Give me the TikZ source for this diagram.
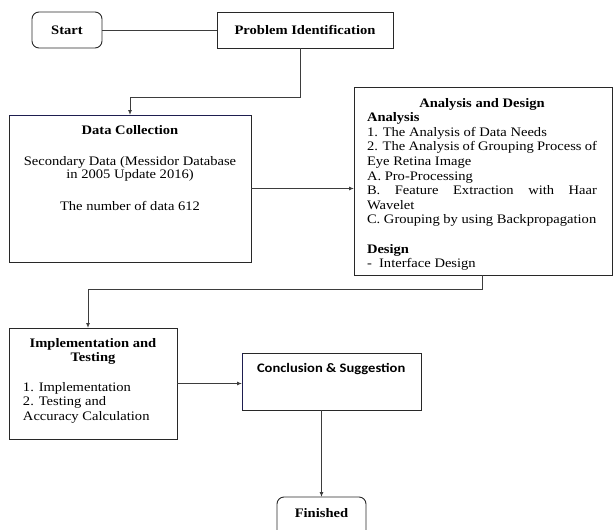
\documentclass[tikz,border=0pt]{standalone}
\usepackage{fontspec}
\setmainfont{Liberation Serif}[FakeStretch=1.12]
\newfontfamily\calibrifont{Carlito}[FakeStretch=1.12]
\usetikzlibrary{arrows.meta}
\definecolor{edge}{RGB}{40,40,40}
\definecolor{navyedge}{RGB}{30,30,80}
\begin{document}
\begin{tikzpicture}[x=1pt,y=-1pt,
  box/.style={draw=edge, line width=0.9pt, inner sep=0pt, outer sep=0pt, anchor=north west},
  rbox/.style={box, rounded corners=7pt},
  conn/.style={draw=edge!90, line width=0.9pt},
  arr/.style={conn, -{Latex[length=5pt,width=4pt]}},
  font=\fontsize{13}{14.6}\selectfont]
\useasboundingbox (0,0) rectangle (613,530);

\node[rbox, minimum width=70pt, minimum height=36pt] (start) at (32,12) {\textbf{Start}};
\node[box, minimum width=176pt, minimum height=36pt] (prob) at (217,12) {\textbf{Problem Identification}};

\node[box] (dc) at (9,115) {\begin{minipage}[t][147pt][t]{242pt}\fontsize{13}{12.7}\selectfont\centering
\vspace*{10pt}\textbf{Data Collection}\\[19pt]
Secondary Data (Messidor Database\\
in 2005 Update 2016)\\[19pt]
The number of data 612\end{minipage}};

\node[box] (ad) at (354,87) {\begin{minipage}[t][188pt][t]{258pt}\fontsize{13}{14.6}\selectfont
\leftskip=13pt \rightskip=15pt \hyphenpenalty=10000 \emergencystretch=20pt
\vspace*{11pt}\hfill\textbf{Analysis and Design}\hfill\mbox{}\\
\textbf{Analysis}\\
1. The Analysis of Data Needs\\
2. The Analysis of Grouping Process of\linebreak Eye Retina Image\\
A. Pro-Processing\\
B. Feature Extraction with Haar\linebreak Wavelet\\
C. Grouping by using Backpropagation\\[14.6pt]
\textbf{Design}\\
-\ \ Interface Design\par\end{minipage}};

\node[box] (impl) at (9,328) {\begin{minipage}[t][111pt][t]{168pt}\fontsize{13}{14.6}\selectfont
\vspace*{10pt}{\centering\textbf{Implementation and}\\ \textbf{Testing}\par}
\vspace{15pt}\leftskip=14pt
1. Implementation\\
2. Testing and\\
Accuracy Calculation\par\end{minipage}};

\node[box] (conc) at (242,353) {\begin{minipage}[t][57pt][t]{179pt}
\vspace*{10pt}\hspace*{15pt}{\calibrifont\bfseries Conclusion \& Suggestion}\end{minipage}};

\node[rbox] (fin) at (277,497) {\begin{minipage}[t][42pt][t]{89pt}\centering
\vspace*{11.5pt}\textbf{Finished}\end{minipage}};

\draw[navyedge, line width=0.9pt] (dc.north west) -- (dc.north east);
\draw[navyedge, line width=0.9pt] (conc.north west) -- (conc.south west);

\draw[conn] (start.east) -- (prob.west);
\draw[arr] ([xshift=-5pt]prob.south) -- ++(0,49) -| (dc.north);
\draw[arr] (dc.east) -- (dc.east -| ad.west);
\draw[arr] ([xshift=-1pt]ad.south) -- ++(0,14) -| ([xshift=-5pt]impl.north);
\draw[arr] (impl.east) -- (impl.east -| conc.west);
\draw[arr] (fin.north |- conc.south) -- (fin.north);
\end{tikzpicture}
\end{document}
